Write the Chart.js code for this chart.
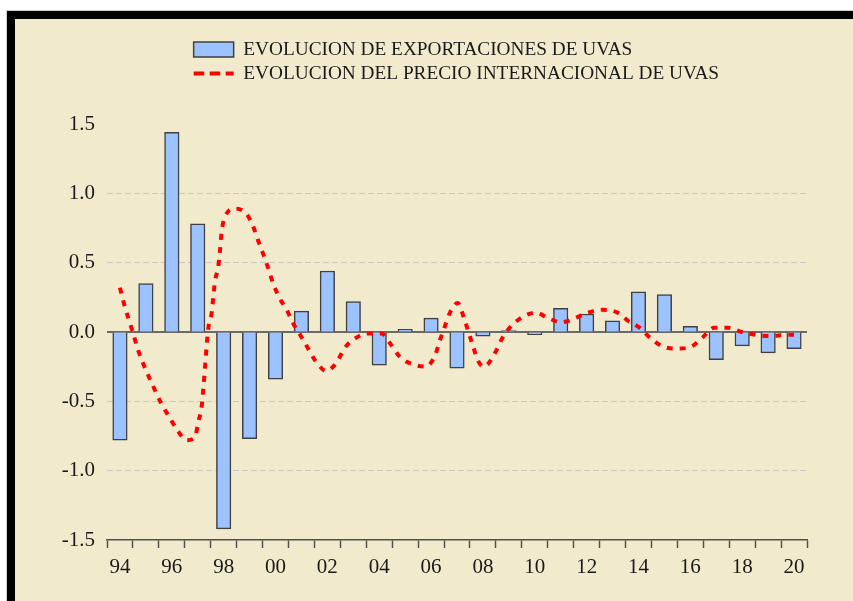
<!DOCTYPE html>
<html><head><meta charset="utf-8">
<script src="https://cdn.jsdelivr.net/npm/chart.js@4.4.1/dist/chart.umd.min.js"></script>
<style>
html,body{margin:0;padding:0;background:#fff;overflow:hidden;width:853px;height:601px;}
#frame{position:absolute;left:7px;top:11px;width:860px;height:600px;border-top:8px solid #000;border-left:8px solid #000;background:#F2EACD;box-shadow:-1px -1px 0 #d0d0d0;}
#c{position:absolute;left:0;top:0;}
</style></head><body>
<div id="frame"><canvas id="c" width="838" height="582"></canvas></div>
<script>
// Years (categories)
const years = [1994,1995,1996,1997,1998,1999,2000,2001,2002,2003,2004,2005,2006,2007,2008,2009,2010,2011,2012,2013,2014,2015,2016,2017,2018,2019,2020];
// Bars: evolucion de exportaciones de uvas
const exportValues = [-0.78,0.35,1.44,0.78,-1.42,-0.77,-0.34,0.15,0.44,0.22,-0.24,0.02,0.10,-0.26,-0.03,0.01,-0.02,0.17,0.13,0.08,0.29,0.27,0.04,-0.20,-0.10,-0.15,-0.12];
// Dashed line: evolucion del precio internacional
const priceTime = [1994.00,1994.19,1994.36,1994.51,1994.68,1995.35,1995.61,1995.86,1996.19,1996.57,1996.89,1997.02,1997.15,1997.21,1997.41,1997.54,1997.60,1997.66,1997.79,1997.86,1997.92,1998.05,1998.44,1998.89,1999.14,1999.33,1999.53,1999.72,1999.91,2000.14,2000.43,2000.69,2000.98,2001.26,2001.55,2001.95,2002.36,2002.65,2003.04,2003.55,2004.09,2004.45,2004.80,2005.25,2005.79,2006.15,2006.34,2006.53,2006.73,2007.03,2007.27,2007.46,2007.63,2007.82,2008.02,2008.20,2008.50,2008.76,2009.08,2009.55,2010.04,2010.52,2011.03,2011.55,2012.06,2012.62,2013.19,2013.60,2014.05,2014.44,2014.89,2015.40,2015.98,2016.47,2016.91,2017.46,2017.98,2018.53,2019.09,2019.71,2020.00];
const priceValues = [0.32,0.18,0.08,-0.01,-0.12,-0.42,-0.52,-0.60,-0.70,-0.78,-0.76,-0.65,-0.54,-0.42,0.03,0.14,0.25,0.36,0.47,0.59,0.72,0.83,0.89,0.85,0.76,0.66,0.56,0.46,0.35,0.25,0.16,0.06,-0.03,-0.12,-0.21,-0.28,-0.22,-0.12,-0.05,-0.01,-0.01,-0.09,-0.18,-0.23,-0.25,-0.17,-0.06,0.04,0.14,0.21,0.10,-0.01,-0.11,-0.21,-0.25,-0.23,-0.14,-0.04,0.04,0.11,0.14,0.10,0.07,0.10,0.14,0.16,0.14,0.08,0.03,-0.04,-0.10,-0.12,-0.11,-0.04,0.03,0.03,0.00,-0.02,-0.03,-0.02,-0.02];
// Axis ticks
const yTicks = [-1.5,-1.0,-0.5,0.0,0.5,1.0,1.5];
const xLabelYears = [1994,1996,1998,2000,2002,2004,2006,2008,2010,2012,2014,2016,2018,2020];
const seriesNames = ['EVOLUCION DE EXPORTACIONES DE UVAS','EVOLUCION DEL PRECIO INTERNACIONAL DE UVAS'];

const barPoints = years.map((yr,i)=>({x:yr,y:exportValues[i]}));
const pricePoints = priceTime.map((t,i)=>({x:t,y:priceValues[i]}));

Chart.defaults.font.family = "'Liberation Serif','Times New Roman',serif";
Chart.defaults.color = '#1a1a1a';

const zeroLine = {
  id:'zeroLine',
  beforeDatasetsDraw(chart){
    const {ctx, chartArea:a, scales:{y}} = chart;
    const py = y.getPixelForValue(0);
    ctx.save();
    ctx.strokeStyle = '#6a6a6a';
    ctx.lineWidth = 2;
    ctx.beginPath(); ctx.moveTo(a.left, py); ctx.lineTo(a.right, py); ctx.stroke();
    ctx.restore();
  }
};
const legendPlace = {
  id:'legendPlace',
  afterLayout(chart){
    const lg = chart.legend;
    if(!lg) return;
    lg.left = 173.95;
    lg.top = 16.15;
  }
};

new Chart(document.getElementById('c'), {
  type:'bar',
  data:{
    datasets:[
      {
        label: seriesNames[0],
        data: barPoints,
        backgroundColor:'#9CC3FF',
        borderColor:'#404040',
        borderWidth:1.5,
        barThickness:14.5,
        grouped:false,
        order:1
      },
      {
        type:'line',
        label: seriesNames[1],
        data: pricePoints,
        borderColor:'#FF0000',
        backgroundColor:'#FF0000',
        borderWidth:4,
        borderDash:[6,7],
        pointRadius:0,
        cubicInterpolationMode:'monotone',
        fill:false,
        order:0
      }
    ]
  },
  options:{
    responsive:false,
    animation:false,
    layout:{padding:{left:0,right:46,top:105,bottom:0}},
    plugins:{
      tooltip:{enabled:false},
      legend:{
        position:'chartArea',
        align:'start',
        labels:{
          usePointStyle:true,
          pointStyleWidth:40,
          boxHeight:15,
          padding:4.7,
          color:'#1a1a1a',
          font:{size:19.3, family:"'Liberation Serif','Times New Roman',serif"},
          generateLabels(chart){
            const items = Chart.defaults.plugins.legend.labels.generateLabels(chart);
            items.sort((a,b)=>a.datasetIndex-b.datasetIndex);
            items.forEach(it=>{
              if(it.datasetIndex===0){ it.pointStyle='rect'; it.lineWidth=1.5; it.strokeStyle='#404040'; it.lineDash=[]; }
              else { it.pointStyle='line'; it.lineDash=[10.5,5.5]; it.lineWidth=4; it.strokeStyle='#FF0000'; }
            });
            return items;
          }
        }
      }
    },
    scales:{
      x:{
        type:'linear',
        min:1993.5, max:2020.5,
        offset:false,
        afterBuildTicks(s){
          const t = [];
          for(let i=0;i<=years.length*2;i++){ t.push({value:years[0]-0.5+i*0.5}); }
          s.ticks = t;
        },
        grid:{
          display:true, offset:false, drawOnChartArea:false, drawTicks:true, tickLength:8,
          tickColor(ctx){ const v = ctx.tick ? ctx.tick.value : 0; return Number.isInteger(v) ? 'rgba(0,0,0,0)' : '#505050'; },
          tickWidth:1.5
        },
        border:{display:true, color:'#505050', width:1.5},
        ticks:{
          autoSkip:false, maxRotation:0, padding:7,
          color:'#1a1a1a',
          font:{size:21},
          callback(v){ return xLabelYears.includes(v) ? String(v).slice(2) : ''; }
        },
        afterFit(s){ s.height = 61; }
      },
      y:{
        min:-1.5, max:1.5,
        afterBuildTicks(s){ s.ticks = yTicks.map(v=>({value:v})); },
        grid:{
          drawTicks:false,
          color(ctx){ const v = ctx.tick ? ctx.tick.value : 0; return (Math.abs(v)<1e-9 || Math.abs(Math.abs(v)-1.5)<1e-9) ? 'rgba(0,0,0,0)' : '#c8c8c8'; },
          lineWidth:1
        },
        border:{display:false, dash:[6,3]},
        ticks:{
          padding:12,
          color:'#1a1a1a',
          font:{size:21},
          callback(v){ return Number(v).toFixed(1); }
        },
        afterFit(s){ s.width = 92; }
      }
    }
  },
  plugins:[zeroLine, legendPlace]
});
</script>
</body></html>
